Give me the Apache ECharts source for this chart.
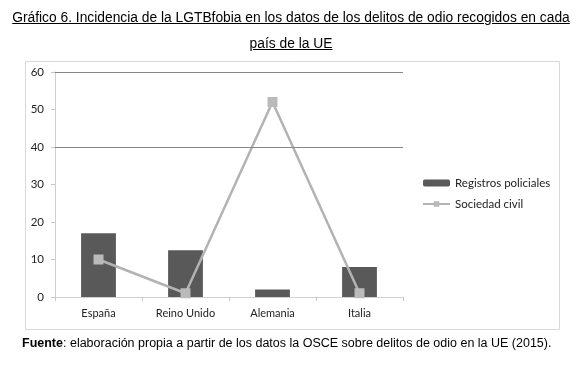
<!DOCTYPE html>
<html>
<head>
<meta charset="utf-8">
<script src="https://cdn.jsdelivr.net/npm/echarts@6/dist/echarts.min.js"></script>
<style>
  html, body { margin: 0; padding: 0; background: #fff; }
  #wrap { position: relative; width: 582px; height: 369px; overflow: hidden; }
  #chart { position: absolute; left: 0; top: 0; width: 582px; height: 369px; }
  .t { position: absolute; left: 0; width: 582px; text-align: center; font-family: "Liberation Sans", Arial, sans-serif; font-size: 13.8px; color: #000; text-decoration: underline; white-space: nowrap; }
  #foot { position: absolute; left: 22px; top: 336px; font-family: "Liberation Sans", Arial, sans-serif; font-size: 12.5px; color: #000; white-space: nowrap; }
</style>
</head>
<body>
<div id="wrap">
  <div id="chart"></div>
  <div class="t" style="top:10px;">Gráfico 6. Incidencia de la LGTBfobia en los datos de los delitos de odio recogidos en cada</div>
  <div class="t" style="top:36px;">país de la UE</div>
  <div id="foot"><b>Fuente</b>: elaboración propia a partir de los datos la OSCE sobre delitos de odio en la UE (2015).</div>
</div>
<script>
const categories = ['España', 'Reino Unido', 'Alemania', 'Italia'];
const registrosPoliciales = [17, 12.5, 2, 8];
const sociedadCivil = [10, 1, 52, 1];
const seriesNames = ['Registros policiales', 'Sociedad civil'];
const gridValues = [40, 60];

const chart = echarts.init(document.getElementById('chart'), null, { renderer: 'canvas' });
const font = 'Lato, "Open Sans", sans-serif';
chart.setOption({
  animation: false,
  backgroundColor: '#fff',
  graphic: [{
    type: 'rect', left: 23, top: 59, silent: true,
    shape: { width: 534, height: 268 },
    style: { fill: 'none', stroke: '#d9d9d9', lineWidth: 1 }
  }],
  grid: { left: 55, right: 179, top: 72, bottom: 72, containLabel: false },
  legend: {
    orient: 'vertical', left: 417, top: 172,
    itemWidth: 27, itemHeight: 7, itemGap: 9,
    textStyle: { fontFamily: font, fontSize: 11.5, color: '#222' },
    data: seriesNames
  },
  xAxis: {
    type: 'category', data: categories, boundaryGap: true,
    axisLine: { show: true, lineStyle: { color: '#d0d0d0', width: 1 } },
    axisTick: { show: true, interval: 0, length: 4, inside: false, lineStyle: { color: '#c8c8c8' } },
    axisLabel: { fontFamily: font, fontSize: 11, color: '#222', margin: 11 }
  },
  yAxis: {
    type: 'value', min: 0, max: 60, interval: 10,
    axisLine: { show: true, lineStyle: { color: '#d0d0d0', width: 1 } },
    axisTick: { show: true, length: 4, lineStyle: { color: '#c8c8c8' } },
    axisLabel: { fontFamily: font, fontSize: 11.5, color: '#222', margin: 11 },
    splitLine: { show: false }
  },
  series: [
    {
      name: seriesNames[0], type: 'bar', data: registrosPoliciales, barWidth: '40%',
      itemStyle: { color: '#595959' },
      markLine: {
        silent: true, symbol: 'none', label: { show: false },
        lineStyle: { color: '#868686', type: 'solid', width: 1 },
        data: gridValues.map(v => ({ yAxis: v }))
      },
      z: 2
    },
    {
      name: seriesNames[1], type: 'line', data: sociedadCivil,
      symbol: 'rect', symbolSize: 10, showAllSymbol: true,
      lineStyle: { color: '#b3b3b3', width: 2.5 },
      itemStyle: { color: '#bababa' },
      z: 3
    }
  ]
});
</script>
</body>
</html>
